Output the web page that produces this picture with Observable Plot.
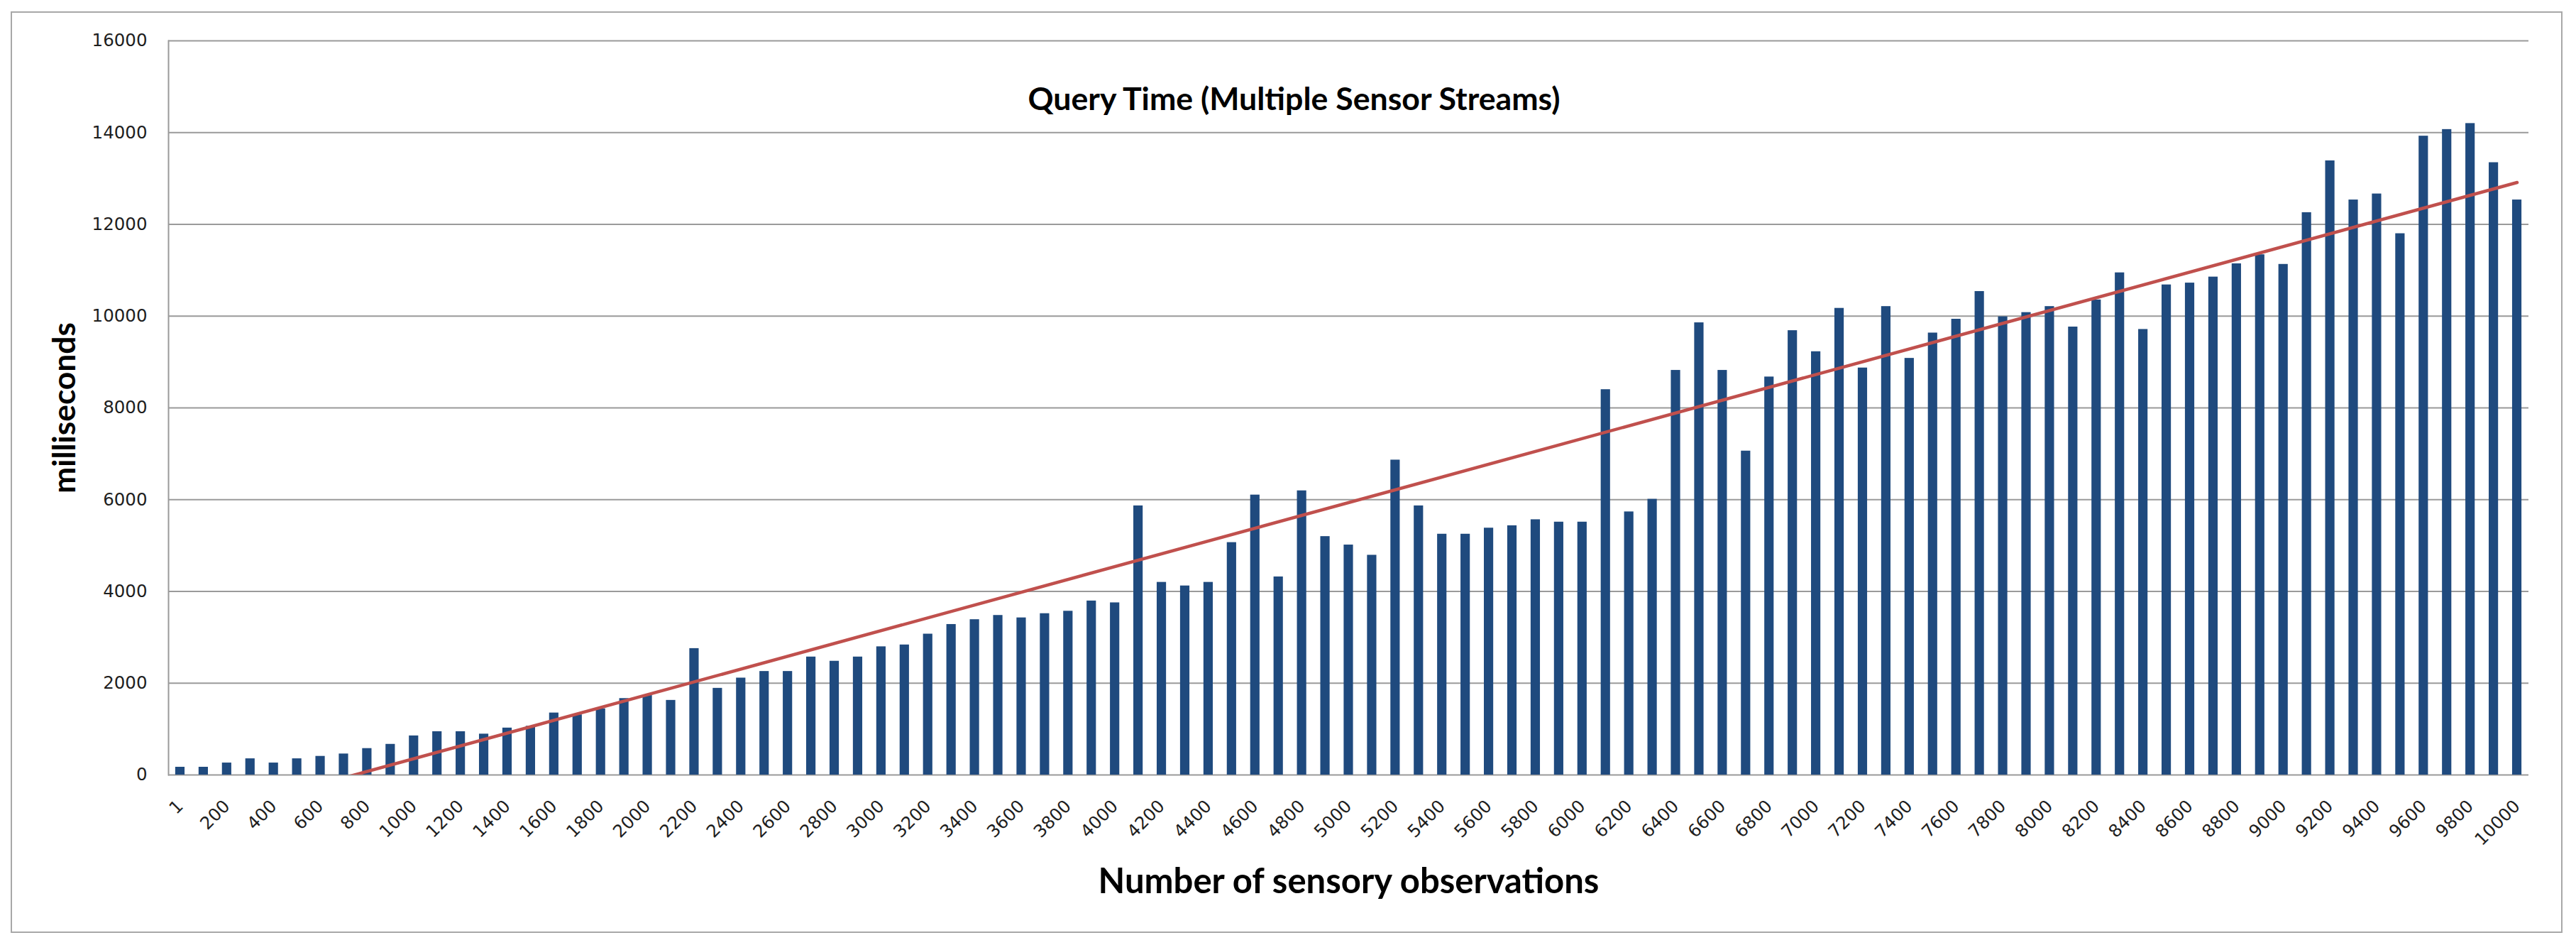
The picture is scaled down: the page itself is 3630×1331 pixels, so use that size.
<!DOCTYPE html>
<html>
<head>
<meta charset="utf-8">
<script src="https://cdn.jsdelivr.net/npm/d3@7"></script>
<script src="https://cdn.jsdelivr.net/npm/@observablehq/plot@0.6"></script>
<style>
html, body { margin: 0; padding: 0; background: #fff; }
#wrap { position: relative; width: 3630px; height: 1331px; overflow: hidden; }
#border { position: absolute; left: 15px; top: 16px; width: 3596px; height: 1298px; border: 2px solid #a8a8a8; box-sizing: border-box; pointer-events: none; }
#wrap svg { position: absolute; left: 0; top: 0; }
</style>
</head>
<body>
<div id="wrap"><div id="border"></div></div>
<script>
// Categories (number of sensory observations)
const observations = [
  1, 100, 200, 300, 400, 500, 600, 700, 800, 900,
  1000, 1100, 1200, 1300, 1400, 1500, 1600, 1700, 1800, 1900,
  2000, 2100, 2200, 2300, 2400, 2500, 2600, 2700, 2800, 2900,
  3000, 3100, 3200, 3300, 3400, 3500, 3600, 3700, 3800, 3900,
  4000, 4100, 4200, 4300, 4400, 4500, 4600, 4700, 4800, 4900,
  5000, 5100, 5200, 5300, 5400, 5500, 5600, 5700, 5800, 5900,
  6000, 6100, 6200, 6300, 6400, 6500, 6600, 6700, 6800, 6900,
  7000, 7100, 7200, 7300, 7400, 7500, 7600, 7700, 7800, 7900,
  8000, 8100, 8200, 8300, 8400, 8500, 8600, 8700, 8800, 8900,
  9000, 9100, 9200, 9300, 9400, 9500, 9600, 9700, 9800, 9900,
  10000
];

// Query time in milliseconds
const queryTime = [
  170, 170, 262, 354, 262, 354, 407, 459, 577, 669,
  853, 945, 945, 892, 1024, 1063, 1352, 1312, 1444, 1667,
  1732, 1627, 2756, 1890, 2113, 2257, 2257, 2572, 2480, 2572,
  2795, 2835, 3071, 3281, 3386, 3478, 3425, 3517, 3570, 3793,
  3753, 5866, 4199, 4121, 4199, 5066, 6102, 4318, 6194, 5197,
  5013, 4790, 6864, 5866, 5249, 5249, 5381, 5433, 5564, 5512,
  5512, 8399, 5735, 6010, 8819, 9856, 8819, 7060, 8675, 9685,
  9226, 10171, 8871, 10210, 9081, 9633, 9934, 10538, 9987, 10079,
  10210, 9764, 10354, 10945, 9711, 10682, 10722, 10853, 11142, 11339,
  11129, 12257, 13386, 12533, 12664, 11798, 13924, 14068, 14199, 13346,
  12533
];

// Linear trendline end points
const trendX = [1, 10000];
const trendY = [-1040, 12913];

// Tick labels
const xTickLabels = [
  1, 200, 400, 600, 800, 1000, 1200, 1400, 1600, 1800, 2000,
  2200, 2400, 2600, 2800, 3000, 3200, 3400, 3600, 3800, 4000,
  4200, 4400, 4600, 4800, 5000, 5200, 5400, 5600, 5800, 6000,
  6200, 6400, 6600, 6800, 7000, 7200, 7400, 7600, 7800, 8000,
  8200, 8400, 8600, 8800, 9000, 9200, 9400, 9600, 9800, 10000
];
const yTickLabels = [0, 2000, 4000, 6000, 8000, 10000, 12000, 14000, 16000];

const titleText = "Query Time (Multiple Sensor Streams)";
const xLabelText = "Number of sensory observations";
const yLabelText = "milliseconds";

const data = observations.map((n, i) => ({n, ms: queryTime[i]}));
const trend = trendX.map((n, i) => ({n, ms: trendY[i]}));

const labelFont = "Lato, 'Open Sans', sans-serif";

const chart = Plot.plot({
  width: 3630,
  height: 1331,
  marginLeft: 237,
  marginRight: 67,
  marginTop: 57,
  marginBottom: 240,
  style: {background: "transparent", fontFamily: "'DejaVu Sans', Verdana, sans-serif", fontSize: "24.5px", color: "#1e1e1e", overflow: "visible"},
  x: {type: "band", domain: observations, paddingInner: 0.6, paddingOuter: 0.3},
  y: {type: "linear", domain: [0, 16000]},
  marks: [
    Plot.gridY(yTickLabels, {stroke: "#9a9a9a", strokeOpacity: 1, strokeWidth: 2}),
    Plot.frame({anchor: "left", stroke: "#9a9a9a", strokeWidth: 2}),
    Plot.barY(data, {x: "n", y: "ms", fill: "#1F4A7E"}),
    Plot.line(trend, {x: "n", y: "ms", stroke: "#C0504D", strokeWidth: 4.5, clip: true}),
    Plot.axisY(yTickLabels, {tickSize: 0, tickPadding: 30, label: null, fontSize: 24.5, tickFormat: d => String(d)}),
    Plot.axisX(xTickLabels, {tickSize: 0, tickPadding: 40, tickRotate: -45, label: null, fontSize: 24.5, tickFormat: d => String(d)}),
    Plot.text([titleText], {frameAnchor: "top", dx: -77, dy: 83, textAnchor: "middle", lineAnchor: "middle", fontFamily: labelFont, fontWeight: "bold", fontSize: 44, fill: "#000"}),
    Plot.text([xLabelText], {frameAnchor: "bottom", dy: 151, textAnchor: "middle", lineAnchor: "middle", fontFamily: labelFont, fontWeight: "bold", fontSize: 48, fill: "#000"}),
    Plot.text([yLabelText], {frameAnchor: "left", dx: -146, rotate: -90, textAnchor: "middle", lineAnchor: "middle", fontFamily: labelFont, fontWeight: "bold", fontSize: 48, fill: "#000"})
  ]
});

document.getElementById("wrap").appendChild(chart);

// Fit label fonts to the widths seen in the reference
const targetWidths = {};
targetWidths[titleText] = 750;
targetWidths[xLabelText] = 706;
targetWidths[yLabelText] = 241;
chart.querySelectorAll("text").forEach(t => {
  const w = targetWidths[t.textContent];
  if (w) {
    const bw = t.getBBox().width;
    const fs = parseFloat(getComputedStyle(t).fontSize);
    if (bw > 0) t.style.fontSize = (fs * w / bw) + "px";
  }
});
</script>
</body>
</html>
